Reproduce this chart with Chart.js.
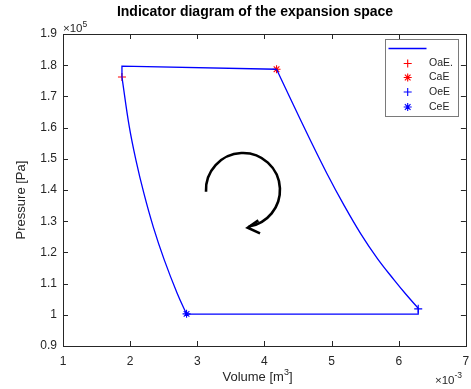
<!DOCTYPE html>
<html>
<head>
<meta charset="utf-8">
<script src="https://cdn.jsdelivr.net/npm/chart.js@4.4.0/dist/chart.umd.min.js"></script>
<style>
    html, body { margin: 0; padding: 0; background: #fff; }
    #wrap { width: 471px; height: 389px; }
</style>
</head>
<body>
<div id="wrap"><canvas id="indicatorChart"></canvas></div>
<script>
// volume in 1e-3 m^3, pressure in 1e5 Pa
// expansion stroke: from top right corner down to the bottom right corner
const expansionVolume = [4.18, 4.43, 4.68, 4.93, 5.18, 5.43, 5.68, 5.93, 6.11, 6.29];
const expansionPressure = [1.787, 1.673, 1.561, 1.453, 1.353, 1.261, 1.181, 1.112, 1.065, 1.021];
// compression stroke: from the bottom left corner up to the top left
const compressionVolume = [2.84, 2.70, 2.508, 2.344, 2.205, 2.086, 1.987, 1.878];
const compressionPressure = [1.002, 1.069, 1.176, 1.282, 1.389, 1.496, 1.603, 1.762];
// straight parts of the loop (left rise + top line, right drop + bottom line)
const topVolume = [1.878, 1.878, 4.18];
const topPressure = [1.762, 1.797, 1.787];
const bottomVolume = [6.29, 6.29, 2.84];
const bottomPressure = [1.021, 1.002, 1.002];

const markerNames = ['OaE.', 'CaE', 'OeE', 'CeE'];
const markerVolume = [1.878, 4.18, 6.29, 2.84];
const markerPressure = [1.762, 1.787, 1.019, 1.003];
const markerColors = ['#ff0000', '#ff0000', '#0000ff', '#0000ff'];
const markerStyles = ['cross', 'star', 'cross', 'star'];

const xTicks = [1, 2, 3, 4, 5, 6, 7];
const yTicks = [0.9, 1.0, 1.1, 1.2, 1.3, 1.4, 1.5, 1.6, 1.7, 1.8, 1.9];

const axisColor = '#262626';
const FONT = 'Liberation Sans, Arial, sans-serif';

function toPoints(xs, ys) {
    return xs.map((v, i) => ({ x: v, y: ys[i] }));
}

function loopPart(xs, ys, tension) {
    return {
        label: '',
        data: toPoints(xs, ys),
        showLine: true,
        borderColor: '#0000ff',
        borderWidth: 1.3,
        pointRadius: 0,
        tension: tension
    };
}

const datasets = [
    loopPart(topVolume, topPressure, 0),
    loopPart(expansionVolume, expansionPressure, 0.4),
    loopPart(bottomVolume, bottomPressure, 0),
    loopPart(compressionVolume, compressionPressure, 0.4)
];
markerNames.forEach((name, i) => {
    datasets.push({
        label: name,
        data: [{ x: markerVolume[i], y: markerPressure[i] }],
        pointStyle: markerStyles[i],
        pointRadius: 4,
        borderColor: markerColors[i],
        backgroundColor: markerColors[i],
        pointBorderWidth: 1.1
    });
});

// box, inward ticks, texts, legend and rotation arrow
const decorations = {
    id: 'decorations',
    afterDatasetsDraw(chart) {
        const ctx = chart.ctx;
        const a = chart.chartArea;
        const xs = chart.scales.x, ys = chart.scales.y;
        ctx.save();

        // rotation arrow (clockwise)
        const cx = xs.getPixelForValue(3.68), cy = ys.getPixelForValue(1.40);
        const r = 37;
        ctx.strokeStyle = '#000';
        ctx.lineWidth = 2.6;
        ctx.beginPath();
        ctx.arc(cx, cy, r, Math.PI * 0.985, Math.PI * 2.45, false);
        ctx.stroke();
        const tipX = cx + 38 * Math.cos(Math.PI * 0.46), tipY = cy + 38 * Math.sin(Math.PI * 0.46);
        ctx.beginPath();
        ctx.moveTo(tipX + 10.6, tipY - 7.3);
        ctx.lineTo(tipX, tipY);
        ctx.lineTo(tipX + 12.3, tipY + 5.7);
        ctx.stroke();

        // axes box
        ctx.strokeStyle = axisColor;
        ctx.lineWidth = 1;
        ctx.strokeRect(Math.round(a.left) + 0.5, Math.round(a.top) + 0.5,
            Math.round(a.right - a.left), Math.round(a.bottom - a.top));
        const tl = 5;
        ctx.beginPath();
        xTicks.forEach(t => {
            const px = Math.round(xs.getPixelForValue(t)) + 0.5;
            ctx.moveTo(px, a.bottom); ctx.lineTo(px, a.bottom - tl);
            ctx.moveTo(px, a.top); ctx.lineTo(px, a.top + tl);
        });
        yTicks.forEach(t => {
            const py = Math.round(ys.getPixelForValue(t)) + 0.5;
            ctx.moveTo(a.left, py); ctx.lineTo(a.left + tl, py);
            ctx.moveTo(a.right, py); ctx.lineTo(a.right - tl, py);
        });
        ctx.stroke();

        // title
        ctx.fillStyle = '#000';
        ctx.font = 'bold 14px ' + FONT;
        ctx.textAlign = 'center';
        ctx.textBaseline = 'middle';
        ctx.fillText('Indicator diagram of the expansion space', 255, 12.5);

        // exponents
        ctx.fillStyle = axisColor;
        ctx.textAlign = 'left';
        ctx.textBaseline = 'alphabetic';
        ctx.font = '11.5px ' + FONT;
        ctx.fillText('\u00d710', 63, 32);
        let w = ctx.measureText('\u00d710').width;
        ctx.font = '8.5px ' + FONT;
        ctx.fillText('5', 63 + w, 27);
        ctx.font = '11.5px ' + FONT;
        ctx.fillText('\u00d710', 435, 384);
        w = ctx.measureText('\u00d710').width;
        ctx.font = '8.5px ' + FONT;
        ctx.fillText('-3', 435 + w, 378);

        // axis titles
        ctx.font = '13px ' + FONT;
        const vol = 'Volume [m', close = ']';
        const wVol = ctx.measureText(vol).width, wClose = ctx.measureText(close).width;
        ctx.font = '9px ' + FONT;
        const wSup = ctx.measureText('3').width;
        const x0 = 257.5 - (wVol + wSup + wClose) / 2;
        ctx.font = '13px ' + FONT;
        ctx.fillText(vol, x0, 381);
        ctx.font = '9px ' + FONT;
        ctx.fillText('3', x0 + wVol, 375);
        ctx.font = '13px ' + FONT;
        ctx.fillText(close, x0 + wVol + wSup, 381);

        ctx.save();
        ctx.translate(21, 200);
        ctx.rotate(-Math.PI / 2);
        ctx.textAlign = 'center';
        ctx.textBaseline = 'middle';
        ctx.fillText('Pressure [Pa]', 0, 0);
        ctx.restore();

        // legend
        const lx = 385.5, ly = 39.5, lw = 73, lh = 77;
        ctx.fillStyle = '#fff';
        ctx.fillRect(lx, ly, lw, lh);
        ctx.strokeStyle = '#7a7a7a';
        ctx.lineWidth = 1;
        ctx.strokeRect(lx, ly, lw, lh);
        ctx.strokeStyle = '#0000ff';
        ctx.lineWidth = 1.3;
        ctx.beginPath();
        ctx.moveTo(388.5, 48.5); ctx.lineTo(426.5, 48.5);
        ctx.stroke();
        const rowY = [63.5, 77.5, 92, 107];
        ctx.font = '10.5px ' + FONT;
        ctx.textBaseline = 'middle';
        markerNames.forEach((name, i) => {
            ctx.lineWidth = 1.1;
            ctx.strokeStyle = markerColors[i];
            ctx.fillStyle = markerColors[i];
            Chart.helpers.drawPoint(ctx, {
                pointStyle: markerStyles[i], radius: 4, rotation: 0, borderWidth: 1.1
            }, 407.7, rowY[i]);
            ctx.fillStyle = axisColor;
            ctx.fillText(name, 429, rowY[i]);
        });
        ctx.restore();
    }
};

new Chart(document.getElementById('indicatorChart'), {
    type: 'scatter',
    data: { datasets: datasets },
    options: {
        responsive: true,
        maintainAspectRatio: false,
        animation: false,
        layout: { padding: { top: 34, right: 5, left: 0, bottom: 0 } },
        plugins: {
            legend: { display: false },
            tooltip: { enabled: false },
            title: { display: false }
        },
        scales: {
            x: {
                type: 'linear',
                min: 1, max: 7,
                afterFit: s => { s.height = 43; s.paddingLeft = 0; s.paddingRight = 0; },
                afterBuildTicks: s => { s.ticks = xTicks.map(v => ({ value: v })); },
                grid: { display: false, drawTicks: false },
                border: { display: false },
                ticks: {
                    color: axisColor, padding: 8,
                    font: { family: FONT, size: 12 },
                    callback: v => String(v)
                }
            },
            y: {
                type: 'linear',
                min: 0.9, max: 1.9,
                afterFit: s => { s.width = 63; s.paddingTop = 0; s.paddingBottom = 0; },
                afterBuildTicks: s => { s.ticks = yTicks.map(v => ({ value: v })); },
                grid: { display: false, drawTicks: false },
                border: { display: false },
                ticks: {
                    color: axisColor, padding: 6,
                    font: { family: FONT, size: 12 },
                    callback: v => String(+v.toFixed(1))
                }
            }
        }
    },
    plugins: [decorations]
});
</script>
</body>
</html>
